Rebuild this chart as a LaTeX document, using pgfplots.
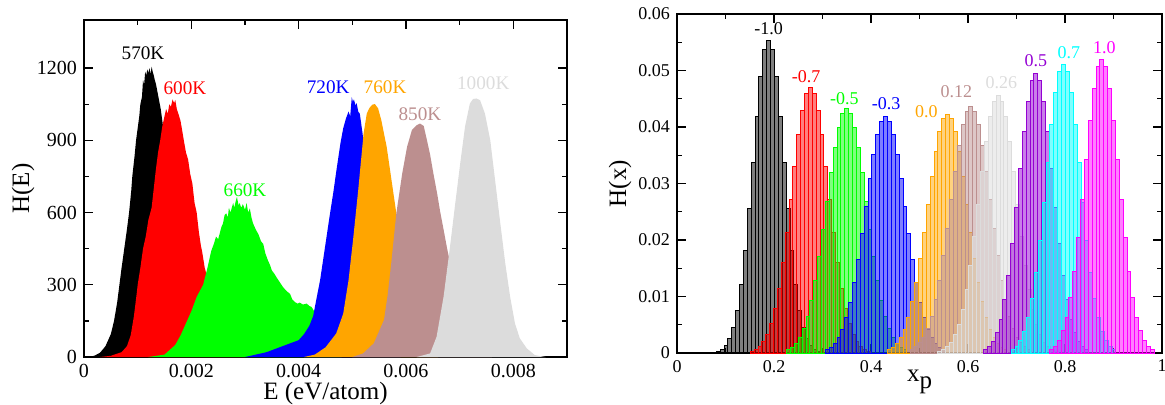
\documentclass[border=0pt]{standalone}
\usepackage{fontspec}
\setmainfont{Liberation Serif}
\usepackage{pgfplots}
\pgfplotsset{compat=1.18}
\definecolor{hgreen}{RGB}{0,255,0}
\definecolor{horange}{RGB}{255,165,0}
\definecolor{hbrown}{RGB}{188,143,143}
\definecolor{hgray}{RGB}{220,220,220}
\definecolor{hpurple}{RGB}{148,0,211}
\definecolor{hcyan}{RGB}{0,255,255}
\definecolor{hmagenta}{RGB}{255,0,255}

\pgfplotsset{
  hpanel/.style={
    scale only axis,
    anchor=south west,
    tick align=inside,
    tick pos=both,
    scaled ticks=false,
    major tick length=4.5pt,
    minor tick length=2.5pt,
    axis line style={line width=0.9pt},
    every tick/.style={black, line width=0.7pt},
    /pgf/number format/assume math mode=true,
    label style={font=\fontsize{12.5}{15}\selectfont},
  },
  bars/.style={ybar interval, fill=#1, fill opacity=0.5, draw=#1, line width=0.5pt},
}

\begin{document}
\begin{tikzpicture}
\useasboundingbox (0,0) rectangle (582.5pt,202pt);

% left: energy histograms
\begin{axis}[hpanel,
  at={(42pt,23.5pt)}, width=241.5pt, height=168.5pt,
  xmin=0, xmax=0.009, ymin=0, ymax=1400,
  xtick={0,0.002,0.004,0.006,0.008},
  xticklabels={0,0.002,0.004,0.006,0.008},
  ytick={0,300,600,900,1200},
  yticklabels={0,300,600,900,1200},
  minor x tick num=1, minor y tick num=1,
  ticklabel style={font=\fontsize{10}{12}\selectfont},
  xlabel={E (eV/atom)}, ylabel={H(E)},
  xlabel style={at={(axis description cs:0.5,-0.108)}, anchor=center},
  ylabel style={at={(axis description cs:-0.126,0.5)}, anchor=center},
]
\addplot[fill=black, draw=none] table {
0.0001 0
0.0002 6
0.0003 18
0.0004 45
0.0005 95
0.00056 150
0.00062 230
0.00066 300
0.0007 370
0.00075 450
0.0008 530
0.00084 600
0.00088 690
0.0009 750
0.00094 830
0.00097 900
0.001 950
0.00103 1000
0.00105 1050
0.00108 1080
0.0011 1150
0.00112 1130
0.00114 1185
0.00116 1170
0.00118 1195
0.0012 1180
0.00122 1200
0.00124 1175
0.00126 1206
0.00128 1185
0.0013 1170
0.00132 1150
0.00134 1135
0.00137 1100
0.0014 1065
0.00143 1030
0.00146 980
0.0016 750
0.0018 380
0.002 120
0.0022 30
0.0024 0
} \closedcycle;
\addplot[fill=red, draw=none] table {
0.0003 0
0.0005 5
0.0007 20
0.0008 45
0.00087 90
0.00093 170
0.00098 260
0.001 300
0.00105 370
0.0011 450
0.00115 500
0.0012 570
0.00126 620
0.0013 700
0.00134 780
0.00138 850
0.00142 900
0.00146 960
0.0015 1000
0.00153 1030
0.00156 1010
0.00159 1050
0.00162 1040
0.00165 1070
0.00168 1055
0.0017 1068
0.00173 1030
0.00176 1010
0.0018 980
0.00183 940
0.00186 900
0.0019 850
0.00194 820
0.00198 760
0.00202 720
0.00206 640
0.0021 600
0.00214 520
0.00218 460
0.0022 440
0.00225 370
0.0024 250
0.0026 120
0.0028 40
0.003 0
} \closedcycle;
\addplot[fill=hgreen, draw=none] table {
0.0012 0
0.0015 10
0.0017 50
0.0018 90
0.0019 140
0.002 190
0.0021 250
0.00222 300
0.0023 370
0.00237 440
0.00242 470
0.00246 500
0.0025 490
0.00253 514
0.00256 540
0.00259 555
0.00262 590
0.00265 597
0.00268 580
0.0027 620
0.00273 600
0.00275 617
0.00278 640
0.0028 620
0.00283 650
0.00285 665
0.00288 630
0.0029 640
0.00293 620
0.00296 635
0.003 612
0.00303 640
0.00306 600
0.00309 617
0.00312 580
0.00315 555
0.0032 530
0.00325 510
0.0033 480
0.00334 470
0.00338 430
0.00343 400
0.00347 380
0.0035 360
0.00355 345
0.00359 330
0.00365 310
0.00371 290
0.00377 275
0.00384 262
0.00388 240
0.00393 228
0.00398 222
0.00402 226
0.00408 218
0.00415 222
0.0042 212
0.00424 208
0.0044 150
0.0046 60
0.0048 0
} \closedcycle;
\addplot[fill=blue, draw=none] table {
0.003 0
0.0034 20
0.0037 45
0.004 70
0.0041 95
0.0042 130
0.00427 170
0.00433 240
0.0044 320
0.00446 410
0.00452 500
0.00458 590
0.00465 690
0.0047 770
0.00474 830
0.00478 890
0.00483 950
0.00488 990
0.00493 1020
0.00496 1000
0.00499 1080
0.00501 1060
0.00503 1070
0.00506 1045
0.00508 1055
0.00511 1020
0.00514 1010
0.00519 930
0.0053 700
0.0055 300
0.0057 80
0.0059 0
} \closedcycle;
\addplot[fill=horange, draw=none] table {
0.0041 0
0.0043 10
0.0045 40
0.0047 98
0.00483 180
0.00493 320
0.00502 500
0.00511 694
0.00521 929
0.00527 1012
0.00532 1035
0.00537 1048
0.00542 1051
0.00548 1033
0.00554 984
0.00564 873
0.00573 735
0.00582 597
0.006 300
0.0062 100
0.0064 20
0.0066 0
} \closedcycle;
\addplot[fill=hbrown, draw=none] table {
0.005 0
0.0052 15
0.0054 57
0.00559 154
0.00566 260
0.00573 400
0.00582 597
0.00593 763
0.00602 873
0.00611 943
0.0062 963
0.00626 970
0.00633 960
0.00639 901
0.00645 840
0.00651 763
0.00658 680
0.00664 600
0.0067 530
0.00676 458
0.00681 403
0.007 200
0.0072 60
0.0074 10
0.0076 0
} \closedcycle;
\addplot[fill=hgray, draw=none] table {
0.0062 0
0.00645 15
0.00657 84
0.0067 250
0.00682 458
0.00691 624
0.00701 804
0.0071 957
0.00719 1053
0.00725 1072
0.00731 1074
0.00738 1067
0.00747 1012
0.00757 901
0.00766 735
0.00775 569
0.00785 389
0.00794 251
0.00803 140
0.00812 78
0.00825 36
0.0084 8
0.0086 0
} \closedcycle;
\begin{scope}[font=\fontsize{9.6}{11}\selectfont]
\node[black]   at (axis cs:0.0011,1262)  {570K};
\node[red]     at (axis cs:0.00188,1117) {600K};
\node[hgreen]  at (axis cs:0.0030,693)   {660K};
\node[blue]    at (axis cs:0.00455,1121) {720K};
\node[horange] at (axis cs:0.00561,1121) {760K};
\node[hbrown]  at (axis cs:0.00626,1009) {850K};
\node[hgray]   at (axis cs:0.00744,1138) {1000K};
\end{scope}
\end{axis}

% right: x_p histograms
\begin{axis}[hpanel,
  at={(338.5pt,25.5pt)}, width=242.5pt, height=169.5pt,
  xmin=0, xmax=1, ymin=0, ymax=0.06,
  xtick={0,0.2,0.4,0.6,0.8,1},
  xticklabels={0,0.2,0.4,0.6,0.8,1},
  ytick={0,0.01,0.02,0.03,0.04,0.05,0.06},
  yticklabels={0,0.01,0.02,0.03,0.04,0.05,0.06},
  minor x tick num=1, minor y tick num=1,
  ticklabel style={font=\fontsize{9}{11}\selectfont},
  xlabel={x\raisebox{-0.6ex}{p}}, ylabel={H(x)},
  xlabel style={at={(axis description cs:0.5,-0.085)}, anchor=center},
  ylabel style={at={(axis description cs:-0.1175,0.5)}, anchor=center},
]
\addplot[bars=black] table {
0.081 0.0003
0.089 0.0006
0.097 0.0013
0.105 0.0025
0.113 0.0045
0.121 0.0076
0.129 0.0121
0.137 0.0181
0.145 0.0255
0.153 0.0337
0.161 0.0419
0.169 0.0489
0.177 0.0537
0.185 0.0554
0.193 0.0537
0.201 0.0489
0.209 0.0419
0.217 0.0337
0.225 0.0255
0.233 0.0181
0.241 0.0121
0.249 0.0076
0.257 0.0045
0.265 0.0025
0.273 0.0013
0.281 0.0006
0.289 0.0003
0.297 0.0003
};
\addplot[bars=red] table {
0.151 0.0003
0.159 0.0006
0.167 0.0011
0.175 0.0020
0.183 0.0033
0.191 0.0052
0.199 0.0079
0.207 0.0115
0.215 0.0160
0.223 0.0213
0.231 0.0271
0.239 0.0331
0.247 0.0386
0.255 0.0430
0.263 0.0460
0.271 0.0470
0.279 0.0460
0.287 0.0430
0.295 0.0386
0.303 0.0331
0.311 0.0271
0.319 0.0213
0.327 0.0160
0.335 0.0115
0.343 0.0079
0.351 0.0052
0.359 0.0033
0.367 0.0020
0.375 0.0011
0.383 0.0006
0.391 0.0003
0.399 0.0003
};
\addplot[bars=hgreen] table {
0.226 0.0006
0.234 0.0010
0.242 0.0017
0.250 0.0028
0.258 0.0043
0.266 0.0065
0.274 0.0093
0.282 0.0128
0.290 0.0170
0.298 0.0218
0.306 0.0269
0.314 0.0319
0.322 0.0364
0.330 0.0400
0.338 0.0424
0.346 0.0432
0.354 0.0424
0.362 0.0400
0.370 0.0364
0.378 0.0319
0.386 0.0269
0.394 0.0218
0.402 0.0170
0.410 0.0128
0.418 0.0093
0.426 0.0065
0.434 0.0043
0.442 0.0028
0.450 0.0017
0.458 0.0010
0.466 0.0006
0.474 0.0006
};
\addplot[bars=blue] table {
0.306 0.0006
0.314 0.0010
0.322 0.0017
0.330 0.0027
0.338 0.0042
0.346 0.0063
0.354 0.0090
0.362 0.0124
0.370 0.0165
0.378 0.0211
0.386 0.0260
0.394 0.0308
0.402 0.0352
0.410 0.0387
0.418 0.0410
0.426 0.0418
0.434 0.0410
0.442 0.0387
0.450 0.0352
0.458 0.0308
0.466 0.0260
0.474 0.0211
0.482 0.0165
0.490 0.0124
0.498 0.0090
0.506 0.0063
0.514 0.0042
0.522 0.0027
0.530 0.0017
0.538 0.0010
0.546 0.0006
0.554 0.0006
};
\addplot[bars=horange] table {
0.434 0.0006
0.442 0.0010
0.450 0.0017
0.458 0.0027
0.466 0.0042
0.474 0.0063
0.482 0.0091
0.490 0.0125
0.498 0.0167
0.506 0.0213
0.514 0.0263
0.522 0.0312
0.530 0.0357
0.538 0.0392
0.546 0.0415
0.554 0.0423
0.562 0.0415
0.570 0.0392
0.578 0.0357
0.586 0.0312
0.594 0.0263
0.602 0.0213
0.610 0.0167
0.618 0.0125
0.626 0.0091
0.634 0.0063
0.642 0.0042
0.650 0.0027
0.658 0.0017
0.666 0.0010
0.674 0.0006
0.682 0.0006
};
\addplot[bars=hbrown] table {
0.482 0.0006
0.490 0.0011
0.498 0.0018
0.506 0.0028
0.514 0.0044
0.522 0.0065
0.530 0.0094
0.538 0.0129
0.546 0.0172
0.554 0.0220
0.562 0.0271
0.570 0.0322
0.578 0.0367
0.586 0.0404
0.594 0.0428
0.602 0.0436
0.610 0.0428
0.618 0.0404
0.626 0.0367
0.634 0.0322
0.642 0.0271
0.650 0.0220
0.658 0.0172
0.666 0.0129
0.674 0.0094
0.682 0.0065
0.690 0.0044
0.698 0.0028
0.706 0.0018
0.714 0.0011
0.722 0.0006
0.730 0.0006
};
\addplot[bars=hgray] table {
0.538 0.0003
0.546 0.0006
0.554 0.0011
0.562 0.0019
0.570 0.0032
0.578 0.0051
0.586 0.0077
0.594 0.0112
0.602 0.0155
0.610 0.0207
0.618 0.0263
0.626 0.0321
0.634 0.0374
0.642 0.0418
0.650 0.0446
0.658 0.0456
0.666 0.0446
0.674 0.0418
0.682 0.0374
0.690 0.0321
0.698 0.0263
0.706 0.0207
0.714 0.0155
0.722 0.0112
0.730 0.0077
0.738 0.0051
0.746 0.0032
0.754 0.0019
0.762 0.0011
0.770 0.0006
0.778 0.0003
0.786 0.0003
};
\addplot[bars=hpurple] table {
0.632 0.0006
0.640 0.0012
0.648 0.0021
0.656 0.0037
0.664 0.0060
0.672 0.0094
0.680 0.0138
0.688 0.0194
0.696 0.0258
0.704 0.0327
0.712 0.0392
0.720 0.0446
0.728 0.0482
0.736 0.0495
0.744 0.0482
0.752 0.0446
0.760 0.0392
0.768 0.0327
0.776 0.0258
0.784 0.0194
0.792 0.0138
0.800 0.0094
0.808 0.0060
0.816 0.0037
0.824 0.0021
0.832 0.0012
0.840 0.0006
0.848 0.0006
};
\addplot[bars=hcyan] table {
0.689 0.0006
0.697 0.0012
0.705 0.0022
0.713 0.0038
0.721 0.0062
0.729 0.0097
0.737 0.0143
0.745 0.0200
0.753 0.0267
0.761 0.0337
0.769 0.0404
0.777 0.0461
0.785 0.0498
0.793 0.0511
0.801 0.0498
0.809 0.0461
0.817 0.0404
0.825 0.0337
0.833 0.0267
0.841 0.0200
0.849 0.0143
0.857 0.0097
0.865 0.0062
0.873 0.0038
0.881 0.0022
0.889 0.0012
0.897 0.0006
0.905 0.0006
};
\addplot[bars=hmagenta] table {
0.768 0.0006
0.776 0.0012
0.784 0.0022
0.792 0.0039
0.800 0.0063
0.808 0.0098
0.816 0.0145
0.824 0.0204
0.832 0.0271
0.840 0.0343
0.848 0.0412
0.856 0.0469
0.864 0.0507
0.872 0.0520
0.880 0.0507
0.888 0.0469
0.896 0.0412
0.904 0.0343
0.912 0.0271
0.920 0.0204
0.928 0.0145
0.936 0.0098
0.944 0.0063
0.952 0.0039
0.960 0.0022
0.968 0.0012
0.976 0.0006
0.984 0.0006
};
\begin{scope}[font=\fontsize{9}{11}\selectfont]
\node[black]    at (axis cs:0.189,0.0575) {-1.0};
\node[red]      at (axis cs:0.266,0.0489) {-0.7};
\node[hgreen]   at (axis cs:0.345,0.0451) {-0.5};
\node[blue]     at (axis cs:0.431,0.0442) {-0.3};
\node[horange]  at (axis cs:0.514,0.0427) {0.0};
\node[hbrown]   at (axis cs:0.576,0.0462) {0.12};
\node[hgray]    at (axis cs:0.669,0.0478) {0.26};
\node[hpurple]  at (axis cs:0.740,0.0517) {0.5};
\node[hcyan]    at (axis cs:0.808,0.0531) {0.7};
\node[hmagenta] at (axis cs:0.881,0.0540) {1.0};
\end{scope}
\end{axis}
\end{tikzpicture}
\end{document}
